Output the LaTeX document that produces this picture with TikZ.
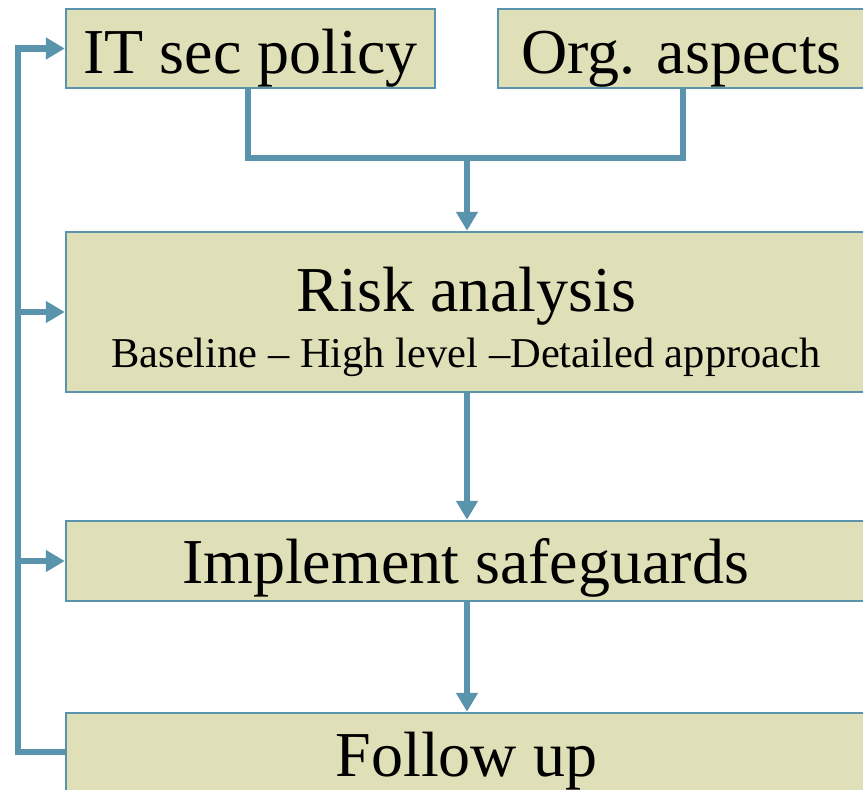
\documentclass[tikz,border=0pt]{standalone}
\usepackage{fontspec}
\setmainfont{Liberation Serif}
\usetikzlibrary{arrows.meta}
\definecolor{boxfill}{HTML}{DFDFB8}
\definecolor{linecol}{HTML}{5A93AC}
\tikzset{
  box/.style={draw=linecol, line width=2.5pt, fill=boxfill, rectangle, inner sep=0pt},
  txt/.style={inner sep=0pt, anchor=base, font=\fontsize{64}{64}\selectfont},
  subtxt/.style={inner sep=0pt, anchor=base, font=\fontsize{42.5}{42.5}\selectfont},
  conn/.style={draw=linecol, line width=6.6pt, miter limit=10},
  arr/.style={conn, -{Triangle[length=19pt,width=21pt]}},
}
\begin{document}
\begin{tikzpicture}[x=1pt,y=-1pt]
\useasboundingbox (0,0) rectangle (863,790);
\clip (0,0) rectangle (863,790);
% boxes
\node[box, minimum width=369pt, minimum height=79pt] (it) at (250.5,48.5) {};
\node[box, minimum width=368pt, minimum height=79pt] (org) at (682,48.5) {};
\node[box, minimum width=800pt, minimum height=160pt] (risk) at (466,312) {};
\node[box, minimum width=800pt, minimum height=80pt] (impl) at (466,561) {};
\node[box, minimum width=800pt, minimum height=120pt] (follow) at (466,773) {};
% texts
\node[txt] (ittxt) at (250.5,73) {IT sec policy};
\node[txt] (orgtxt) at (681.5,73) {Org. aspects};
\node[txt] (risktxt) at (466.5,311) {Risk analysis};
\node[subtxt] (risksub) at (466,367) {Baseline – High level –Detailed approach};
\node[txt] (impltxt) at (465.5,583) {Implement safeguards};
\node[txt] (followtxt) at (466.5,776) {Follow up};
% coordinates
\coordinate (merge) at (467,158);
\coordinate (itdown) at (248,158);
\coordinate (orgdown) at (683,158);
\coordinate (fbbottom) at (18,752);
\coordinate (fbtop) at (18,48.5);
\coordinate (fbrisk) at (18,312);
\coordinate (fbimpl) at (18,561);
% top merge
\draw[conn] (it.south -| itdown) -- (itdown) -- (orgdown) -- (org.south -| orgdown);
\draw[arr] (merge) -- (risk.north -| merge);
% main flow
\draw[arr] (risk.south -| merge) -- (impl.north -| merge);
\draw[arr] (impl.south -| merge) -- (follow.north -| merge);
% feedback
\draw[conn] (follow.west |- fbbottom) -- (fbbottom) -- (fbtop);
\draw[arr] ([xshift=-3.3pt]fbtop) -- (it.west);
\draw[arr] (fbrisk) -- (risk.west);
\draw[arr] (fbimpl) -- (impl.west);
\end{tikzpicture}
\end{document}
